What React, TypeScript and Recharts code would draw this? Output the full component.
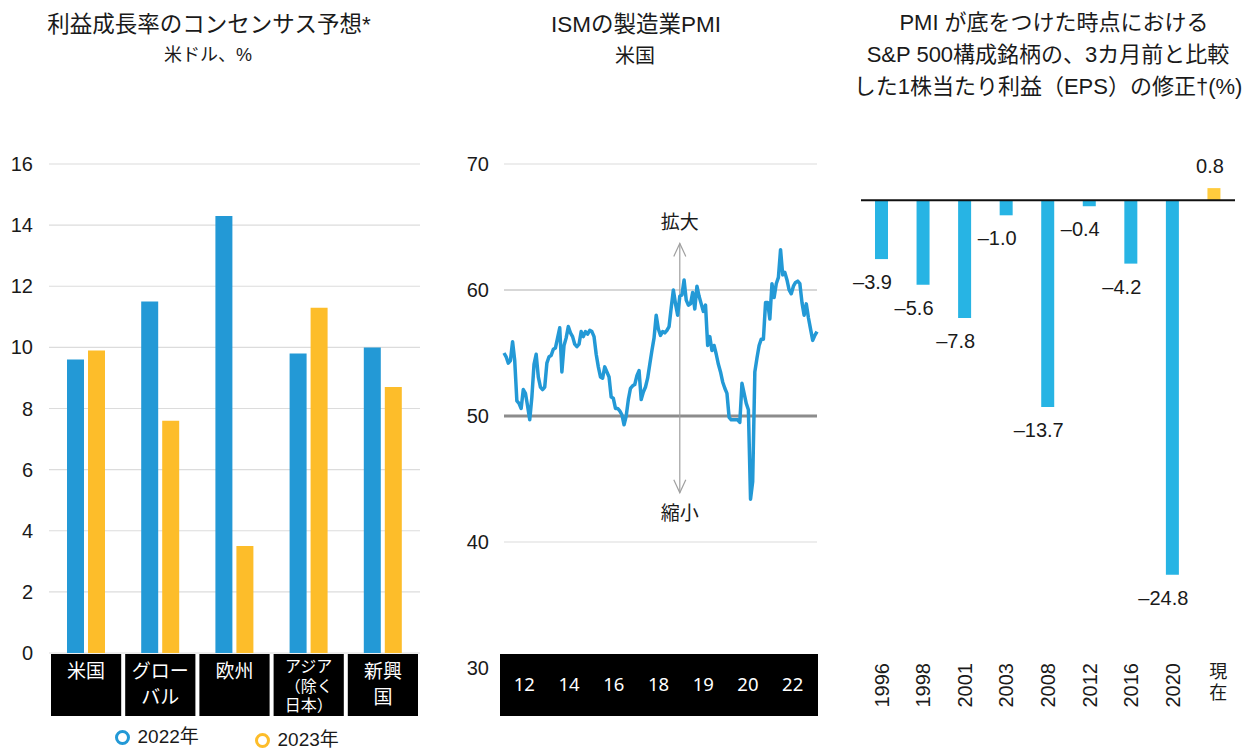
import { BarChart, Bar, LineChart, Line, XAxis, YAxis, CartesianGrid, ReferenceLine, LabelList, Cell } from 'recharts';

const FONT = "'Liberation Sans', Arial, 'Noto Sans CJK JP', sans-serif";
const CJK = "'Noto Sans CJK JP', 'Liberation Sans', sans-serif";
const INK = '#1a1a1a';

// Panel 1: consensus earnings growth (USD, %)
const regions = ['米国', 'グローバル', '欧州', 'アジア（除く日本）', '新興国'];
const regionLines = [['米国'], ['グロー', 'バル'], ['欧州'], ['アジア', '（除く', '日本）'], ['新興', '国']];
const growth2022 = [9.6, 11.5, 14.3, 9.8, 10.0];
const growth2023 = [9.9, 7.6, 3.5, 11.3, 8.7];
const growthTicks = [0, 2, 4, 6, 8, 10, 12, 14, 16];

// Panel 2: ISM manufacturing PMI, monthly
const pmi = [
  55.0, 54.7, 54.2, 54.4, 55.9, 54.4, 51.2, 51.0, 50.6, 52.1,
  51.8, 50.8, 49.7, 51.5, 54.1, 54.9, 53.1, 52.3, 52.1, 52.3,
  54.2, 54.7, 54.8, 55.3, 55.4, 56.2, 57.0, 53.5, 55.6, 56.2,
  57.1, 56.6, 56.3, 55.7, 55.5, 55.7, 56.7, 56.3, 56.7, 56.5,
  56.8, 56.7, 56.3, 54.9, 53.9, 53.1, 53.0, 53.9, 53.5, 53.1,
  51.5, 51.4, 50.6, 50.6, 50.4, 50.1, 49.3, 50.0, 51.3, 52.2,
  52.4, 52.5, 53.2, 53.6, 51.3, 51.9, 52.3, 53.0, 54.1, 55.2,
  56.2, 58.0, 56.9, 56.4, 56.7, 56.6, 56.8, 57.1, 58.6, 60.0,
  58.9, 58.0, 59.5, 59.6, 60.8, 59.2, 58.8, 58.9, 59.8, 58.5,
  60.3, 59.5, 58.9, 58.3, 58.8, 55.6, 56.3, 55.2, 55.6, 54.9,
  54.1, 53.5, 52.7, 52.2, 51.8, 49.9, 49.7, 49.7, 49.7, 49.7,
  49.5, 52.6, 51.8, 51.0, 50.5, 43.4, 44.8, 53.5, 54.6, 55.6,
  56.1, 56.1, 59.0, 59.0, 57.7, 60.5, 59.4, 60.5, 61.0, 63.2,
  61.2, 61.4, 60.8, 60.0, 59.7, 60.3, 60.6, 60.7, 60.5, 59.0,
  58.0, 58.9, 57.8, 56.9, 56.0, 56.4, 56.7,
];
const pmiYearLabels = ['12', '14', '16', '18', '19', '20', '22'];
const pmiTicks = [30, 40, 50, 60, 70];
const pmiArrowAt = 82;

// Panel 3: 3-month EPS revision at PMI troughs (%)
const epsPeriods = ['1996', '1998', '2001', '2003', '2008', '2012', '2016', '2020', '現在'];
const epsRevision = [-3.9, -5.6, -7.8, -1.0, -13.7, -0.4, -4.2, -24.8, 0.8];

const growthData = regions.map((region, i) => ({ region, y2022: growth2022[i], y2023: growth2023[i] }));
// "slot" places each month on the 0..7 scale used by the year label band
const pmiData = pmi.map((v, i) => ({ i, v, slot: (i / (pmi.length - 1)) * pmiYearLabels.length }));
const epsData = epsPeriods.map((period, i) => ({ period, value: epsRevision[i] }));

const BLUE = '#2399d6';
const YELLOW = '#fdbd2a';
const EPS_BLUE = '#27b4e4';
const EPS_YELLOW = '#ffcb3d';

// layout of the left panel
const L = { w: 430, top: 164, axisW: 49, right: 10, axisH: 70, bottom: 28 };
const leftBand = (L.w - L.axisW - L.right) / regions.length;

// layout of the middle panel
const M = { x: 440, w: 390, top: 164, axisW: 64, right: 13, axisH: 52, bottom: 31 };
const midPlotW = M.w - M.axisW - M.right;

function RegionTick({ x, payload }: any) {
  const idx = regions.indexOf(payload.value);
  const lines = regionLines[idx] ?? [String(payload.value)];
  const three = lines.length > 2;
  const fs = three ? 16 : 19;
  const lh = three ? 19.5 : 26;
  const first = three ? 672 : 678;
  return (
    <g>
      <rect x={x - leftBand / 2 + 2} y={654} width={leftBand - 4} height={62} fill="#000" />
      <text x={x} y={first} textAnchor="middle" fill="#fff" fontSize={fs} fontFamily={CJK}>
        {lines.map((t, k) => (
          <tspan key={k} x={x} dy={k === 0 ? 0 : lh}>
            {t}
          </tspan>
        ))}
      </text>
    </g>
  );
}

function YearTick({ x, payload, index }: any) {
  const label = pmiYearLabels[Math.floor(payload.value)] ?? '';
  return (
    <g>
      {index === 0 && <rect x={M.axisW - 4} y={654} width={midPlotW + 5} height={62} fill="#000" />}
      <text x={x - 2} y={691} textAnchor="middle" fill="#fff" fontSize={18.5} fontFamily="'Noto Sans', sans-serif">
        {label}
      </text>
    </g>
  );
}

function ArrowShape(props: any) {
  const { x1, y1, x2, y2 } = props;
  const top = Math.min(y1, y2);
  const bottom = Math.max(y1, y2);
  const x = (x1 + x2) / 2;
  return (
    <g>
      <line x1={x} y1={top} x2={x} y2={bottom} stroke="#a0a0a0" strokeWidth={1.2} />
      <polyline points={`${x - 6},${top + 13} ${x},${top} ${x + 6},${top + 13}`} fill="none" stroke="#a0a0a0" strokeWidth={1.2} />
      <polyline points={`${x - 6},${bottom - 13} ${x},${bottom} ${x + 6},${bottom - 13}`} fill="none" stroke="#a0a0a0" strokeWidth={1.2} />
      <text x={x} y={top - 14} textAnchor="middle" fontSize={19} fill={INK} fontFamily={CJK}>拡大</text>
      <text x={x} y={bottom + 27} textAnchor="middle" fontSize={19} fill={INK} fontFamily={CJK}>縮小</text>
    </g>
  );
}

function PeriodTick({ x, payload }: any) {
  const label = String(payload.value);
  if (/^\d+$/.test(label)) {
    return (
      <text transform={`translate(${x + 7},663) rotate(-90)`} textAnchor="end" fontSize={20} fill={INK}>
        {label}
      </text>
    );
  }
  // non-year labels are stacked one character per line
  return (
    <text x={x + 4} y={678} textAnchor="middle" fontSize={18} fill={INK} fontFamily={CJK}>
      {label.split('').map((ch, k) => (
        <tspan key={k} x={x + 4} dy={k === 0 ? 0 : 21}>
          {ch}
        </tspan>
      ))}
    </text>
  );
}

function EpsLabel(props: any) {
  const vb = props.viewBox ?? props;
  const { x, y, width, height } = vb;
  const v = Number(props.value);
  const top = Math.min(y, y + height);
  const bottom = Math.max(y, y + height);
  const cx = x + width / 2;
  const text = v < 0 ? `–${Math.abs(v).toFixed(1)}` : v.toFixed(1);
  return (
    <text x={v < 0 ? cx - 9 : cx - 4} y={v < 0 ? bottom + 30 : top - 15} textAnchor="middle" fontSize={20} fill={INK}>
      {text}
    </text>
  );
}

function Caption({ text, cx, cy, size }: { text: string; cx: number; cy: number; size: number }) {
  return (
    <div
      style={{
        position: 'absolute',
        left: cx - 250,
        width: 500,
        top: cy - 16,
        height: 32,
        lineHeight: '32px',
        textAlign: 'center',
        fontSize: size,
        whiteSpace: 'nowrap',
        color: INK,
      }}
    >
      {text}
    </div>
  );
}

function LegendItem({ color, x, y, label }: { color: string; x: number; y: number; label: string }) {
  return (
    <>
      <div
        style={{
          position: 'absolute',
          left: x - 7.5,
          top: y - 7.5,
          width: 15,
          height: 15,
          boxSizing: 'border-box',
          border: `3.5px solid ${color}`,
          borderRadius: '50%',
        }}
      />
      <div style={{ position: 'absolute', left: x + 15, top: y - 11, fontSize: 19, lineHeight: '22px', color: INK, whiteSpace: 'nowrap' }}>
        {label}
      </div>
    </>
  );
}

export default function App() {
  return (
    <div
      style={{
        position: 'absolute',
        left: 0,
        top: 0,
        width: 1242,
        height: 751,
        overflow: 'hidden',
        background: '#fff',
        fontFamily: FONT,
      }}
    >
      <Caption text="利益成長率のコンセンサス予想*" cx={209} cy={25} size={22.5} />
      <Caption text="米ドル、%" cx={208} cy={55} size={18} />
      <Caption text="ISMの製造業PMI" cx={636} cy={25} size={22.5} />
      <Caption text="米国" cx={635} cy={56} size={20} />
      <Caption text="PMI が底をつけた時点における" cx={1054} cy={23} size={22} />
      <Caption text="S&P 500構成銘柄の、3カ月前と比較" cx={1048} cy={55} size={22} />
      <Caption text="した1株当たり利益（EPS）の修正†(%)" cx={1048} cy={87} size={22} />

      <div style={{ position: 'absolute', left: 0, top: 0 }}>
        <BarChart
          width={L.w}
          height={751}
          data={growthData}
          margin={{ top: L.top, right: L.right, left: 0, bottom: L.bottom }}
          barGap={4}
        >
          <CartesianGrid vertical={false} stroke="#dcdcdc" strokeWidth={1.2} />
          <XAxis dataKey="region" height={L.axisH} axisLine={false} tickLine={false} interval={0} tick={RegionTick} />
          <YAxis
            domain={[0, 16]}
            ticks={growthTicks}
            width={L.axisW}
            axisLine={false}
            tickLine={false}
            tickSize={0}
            tickMargin={16}
            tick={{ fill: INK, fontSize: 20 }}
          />
          <Bar dataKey="y2022" name="2022年" fill={BLUE} barSize={17} isAnimationActive={false} />
          <Bar dataKey="y2023" name="2023年" fill={YELLOW} barSize={17} isAnimationActive={false} />
        </BarChart>
      </div>
      <LegendItem color={BLUE} x={122.5} y={737} label="2022年" />
      <LegendItem color={YELLOW} x={262.5} y={740} label="2023年" />

      <div style={{ position: 'absolute', left: M.x, top: 0 }}>
        <LineChart
          width={M.w}
          height={751}
          data={pmiData}
          margin={{ top: M.top, right: M.right, left: 0, bottom: M.bottom }}
        >
          <CartesianGrid vertical={false} stroke="#dcdcdc" strokeWidth={1.2} />
          <XAxis dataKey="i" type="category" hide />
          <XAxis
            xAxisId="yr"
            dataKey="slot"
            type="number"
            domain={[0, pmiYearLabels.length]}
            ticks={pmiYearLabels.map((_, k) => k + 0.5)}
            interval={0}
            height={M.axisH}
            axisLine={false}
            tickLine={false}
            tick={YearTick}
          />
          <YAxis
            domain={[30, 70]}
            ticks={pmiTicks}
            width={M.axisW}
            axisLine={false}
            tickLine={false}
            tickSize={0}
            tickMargin={15}
            tick={{ fill: INK, fontSize: 20 }}
          />
          <ReferenceLine y={60} stroke="#c2c2c2" strokeWidth={1.2} />
          <ReferenceLine y={50} stroke="#8c8c8c" strokeWidth={3} />
          <ReferenceLine
            segment={[
              { x: pmiArrowAt, y: 43.9 },
              { x: pmiArrowAt, y: 63.7 },
            ]}
            shape={ArrowShape}
          />
          <Line
            type="linear"
            dataKey="v"
            stroke={BLUE}
            strokeWidth={3.5}
            strokeLinejoin="round"
            dot={false}
            activeDot={false}
            isAnimationActive={false}
          />
        </LineChart>
      </div>

      <div style={{ position: 'absolute', left: 840, top: 0 }}>
        <BarChart width={402} height={751} data={epsData} margin={{ top: 170, right: 7, left: 21, bottom: 28 }}>
          <XAxis dataKey="period" height={100} axisLine={false} tickLine={false} interval={0} tick={PeriodTick} />
          <YAxis hide domain={[-28, 2]} />
          <Bar dataKey="value" barSize={13} isAnimationActive={false}>
            {epsData.map((d, i) => (
              <Cell key={i} fill={d.value < 0 ? EPS_BLUE : EPS_YELLOW} />
            ))}
            <LabelList dataKey="value" content={EpsLabel} />
          </Bar>
          <ReferenceLine y={0} stroke="#111" strokeWidth={2} />
        </BarChart>
      </div>
    </div>
  );
}
